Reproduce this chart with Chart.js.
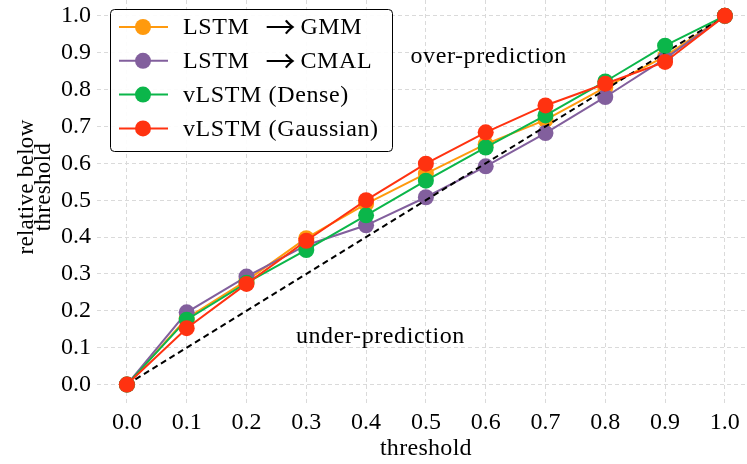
<!DOCTYPE html>
<html>
<head>
<meta charset="utf-8">
<script src="https://cdn.jsdelivr.net/npm/chart.js@4/dist/chart.umd.min.js"></script>
<style>
  html, body { margin: 0; padding: 0; background: #fff; overflow: hidden; }
  #wrap { width: 747px; height: 464px; }
</style>
</head>
<body>
<div id="wrap"><canvas id="c" width="747" height="464"></canvas></div>
<script>
const thresholds = [0.0, 0.1, 0.2, 0.3, 0.4, 0.5, 0.6, 0.7, 0.8, 0.9, 1.0];
const seriesNames = ["LSTM \u2192 GMM", "LSTM \u2192 CMAL", "vLSTM (Dense)", "vLSTM (Gaussian)"];
const gmmValues      = [0.0, 0.180, 0.282, 0.397, 0.490, 0.572, 0.652, 0.718, 0.806, 0.890, 1.0];
const cmalValues     = [0.0, 0.196, 0.293, 0.378, 0.432, 0.508, 0.592, 0.682, 0.780, 0.884, 1.0];
const denseValues    = [0.0, 0.176, 0.276, 0.365, 0.459, 0.553, 0.643, 0.730, 0.822, 0.919, 1.0];
const gaussianValues = [0.0, 0.153, 0.273, 0.390, 0.500, 0.599, 0.684, 0.757, 0.816, 0.875, 1.0];
const diagonal = [0.0, 1.0];
const tickValues = [0.0, 0.1, 0.2, 0.3, 0.4, 0.5, 0.6, 0.7, 0.8, 0.9, 1.0];
const xTitle = "threshold";
const yTitle = ["relative below", "threshold"];
const annotations = [
  { text: "over-prediction", x: 0.605, y: 0.888 },
  { text: "under-prediction", x: 0.424, y: 0.129 }
];

const colors = ["#ff9a0e", "#825f9d", "#0bb64a", "#ff3210"];
const FONT = "'Liberation Serif', 'DejaVu Serif', serif";
const ARROW_FONT = "'Noto Sans CJK JP', 'DejaVu Sans', sans-serif";

function pts(vals) { return vals.map((v, i) => ({ x: thresholds[i], y: v })); }

const orders = [5, 4, 2, 1];
const valueSets = [gmmValues, cmalValues, denseValues, gaussianValues];
const datasets = valueSets.map((vals, i) => ({
  label: seriesNames[i],
  data: pts(vals),
  borderColor: colors[i],
  backgroundColor: colors[i],
  borderWidth: 2,
  pointRadius: 8,
  pointHoverRadius: 8,
  pointBorderWidth: 0,
  order: orders[i],
  isSeries: true
}));
datasets.push({
  label: "",
  data: diagonal.map(v => ({ x: v, y: v })),
  borderColor: "#000",
  borderWidth: 2,
  borderDash: [6, 4],
  pointRadius: 0,
  order: 3,
  isSeries: false
});

const textPlugin = {
  id: "texts",
  afterDatasetsDraw(chart) {
    const ctx = chart.ctx, xs = chart.scales.x, ys = chart.scales.y;
    ctx.save();
    ctx.fillStyle = "#000";
    ctx.letterSpacing = "0.6px";
    ctx.font = "24px " + FONT;
    ctx.textAlign = "center";
    ctx.textBaseline = "middle";
    annotations.forEach(a => ctx.fillText(a.text, xs.getPixelForValue(a.x), ys.getPixelForValue(a.y)));
    ctx.textBaseline = "alphabetic";
    ctx.letterSpacing = "0.3px";
    ctx.fillText(xTitle, xs.getPixelForValue(0.5), 455);
    ctx.font = "23px " + FONT;
    const cy = 187;
    const baselines = [33, 50];
    yTitle.forEach((line, i) => {
      ctx.save();
      ctx.translate(baselines[i], cy);
      ctx.rotate(-Math.PI / 2);
      ctx.textAlign = "center";
      ctx.textBaseline = "alphabetic";
      ctx.fillText(line, 0, 0);
      ctx.restore();
    });
    ctx.restore();
  }
};

const legendPlugin = {
  id: "customLegend",
  afterDraw(chart) {
    const ctx = chart.ctx;
    const items = chart.data.datasets.filter(d => d.isSeries);
    const bx = 110.5, by = 9.5, bw = 282, bh = 142, r = 4;
    ctx.save();
    ctx.beginPath();
    ctx.roundRect(bx, by, bw, bh, r);
    ctx.fillStyle = "rgba(255,255,255,0.9)";
    ctx.fill();
    ctx.lineWidth = 1;
    ctx.strokeStyle = "#000";
    ctx.stroke();
    ctx.textBaseline = "middle";
    items.forEach((d, i) => {
      const cy = 27 + i * 33.8;
      ctx.strokeStyle = d.borderColor;
      ctx.lineWidth = 2;
      ctx.beginPath();
      ctx.moveTo(119, cy);
      ctx.lineTo(168, cy);
      ctx.stroke();
      ctx.fillStyle = d.borderColor;
      ctx.beginPath();
      ctx.arc(143, cy, 8, 0, Math.PI * 2);
      ctx.fill();
      ctx.fillStyle = "#000";
      const parts = d.label.split("\u2192");
      const x0 = 183;
      ctx.letterSpacing = "0.6px";
      ctx.font = "24px " + FONT;
      ctx.textAlign = "left";
      if (parts.length === 2) {
        const a = parts[0].trim(), b = parts[1].trim();
        ctx.fillText(a, x0, cy + 1);
        const wa = ctx.measureText(a).width;
        ctx.letterSpacing = "0px";
        ctx.font = "30px " + ARROW_FONT;
        ctx.textAlign = "center";
        ctx.fillText("\u2192", x0 + wa + 31, cy);
        ctx.letterSpacing = "0.6px";
        ctx.font = "24px " + FONT;
        ctx.textAlign = "left";
        ctx.fillText(b, x0 + wa + 51, cy + 1);
      } else {
        ctx.fillText(d.label, x0, cy + 1);
      }
    });
    ctx.restore();
  }
};

const gridStyle = { color: "#dadada", lineWidth: 1, drawTicks: false };

new Chart(document.getElementById("c"), {
  type: "line",
  data: { datasets },
  options: {
    responsive: false,
    animation: false,
    layout: { autoPadding: false, padding: { left: 61, right: 0, top: 0, bottom: 27 } },
    plugins: { legend: { display: false }, tooltip: { enabled: false } },
    scales: {
      x: {
        type: "linear",
        min: -0.05,
        max: 1.037,
        afterBuildTicks(s) { s.ticks = tickValues.map(v => ({ value: v })); },
        afterFit(s) { s.height = 34; s.paddingLeft = 0; s.paddingRight = 0; },
        grid: gridStyle,
        border: { display: false, dash: [4, 3] },
        ticks: { color: "#000", font: { family: FONT, size: 24 }, padding: 5, maxRotation: 0,
                 callback: v => Number(v).toFixed(1) }
      },
      y: {
        type: "linear",
        min: -0.05,
        max: 1.043,
        afterBuildTicks(s) { s.ticks = tickValues.map(v => ({ value: v })); },
        afterFit(s) { s.width = 36; s.paddingTop = 0; s.paddingBottom = 0; },
        grid: gridStyle,
        border: { display: false, dash: [4, 3] },
        ticks: { color: "#000", font: { family: FONT, size: 24 }, padding: 6,
                 callback: v => Number(v).toFixed(1) }
      }
    }
  },
  plugins: [textPlugin, legendPlugin]
});
</script>
</body>
</html>
